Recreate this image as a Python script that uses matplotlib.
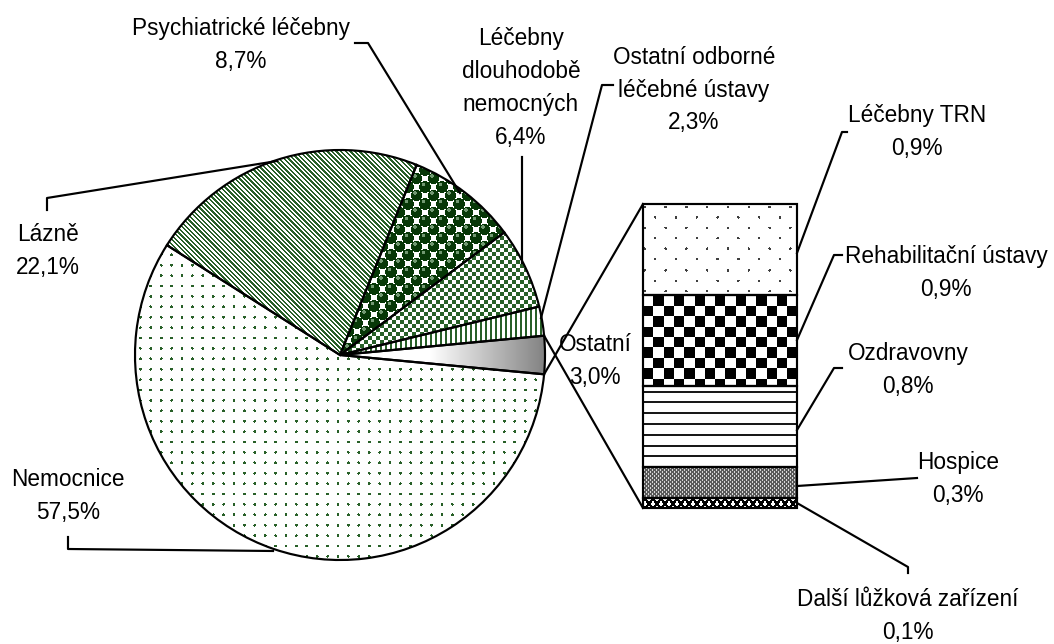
import numpy as np
import matplotlib
matplotlib.use('Agg')
import matplotlib.pyplot as plt

# pie: order of drawing, starting at the right (Ostatní) and going counterclockwise
pie_names = ['Ostatní', 'Ostatní odborné\nléčebné ústavy', 'Léčebny\ndlouhodobě\nnemocných',
             'Psychiatrické léčebny', 'Lázně', 'Nemocnice']
pie_values = [3.0, 2.3, 6.4, 8.7, 22.1, 57.5]

# breakdown of "Ostatní", top to bottom
other_names = ['Léčebny TRN', 'Rehabilitační ústavy', 'Ozdravovny', 'Hospice', 'Další lůžková zařízení']
other_values = [0.9, 0.9, 0.8, 0.3, 0.1]

W, H, DPI = 1054, 644, 120
plt.rcParams['font.family'] = ['Liberation Sans', 'DejaVu Sans']

fig = plt.figure(figsize=(W / DPI, H / DPI), dpi=DPI)
ax = fig.add_axes([0, 0, 1, 1])
ax.axis('off')


def fmt(v):
    return f'{v:.1f}%'.replace('.', ',')


# --- pie (pixel coordinates, y downwards) ---
cx, cy, r = 340, 355, 205
wedges, _ = ax.pie(pie_values, center=(cx, cy), radius=r, counterclock=False,
                   startangle=pie_values[0] / sum(pie_values) * 180,
                   wedgeprops=dict(fill=False, edgecolor='black', linewidth=1.3, zorder=3))
ax.set_xlim(0, W)
ax.set_ylim(H, 0)

# --- bar with the breakdown ---
bx0, by0, bx1, by1 = 643, 204, 797, 508
bax = fig.add_axes([bx0 / W, 1 - by1 / H, (bx1 - bx0) / W, (by1 - by0) / H])
bottoms = np.concatenate([[0], np.cumsum(other_values)[:-1]])
bars = bax.bar(0.5, other_values, width=1, bottom=bottoms, fill=False,
               edgecolor='black', linewidth=1.3, clip_on=False, zorder=3)
bax.set_xlim(0, 1)
bax.set_ylim(sum(other_values), 0)
bax.axis('off')


# --- textures (functions of pixel x, y from top) ---
GREEN = np.array([0.16, 0.38, 0.16])
DARK = np.array([0.03, 0.22, 0.03])


def paint(mask, color, bg=(1, 1, 1)):
    img = np.ones(mask.shape + (3,)) * np.array(bg)
    img[mask] = color
    return img


def dots_grid(X, Y, step, rad, color):
    dx = (X % step) - step / 2
    dy = (Y % step) - step / 2
    return paint(dx ** 2 + dy ** 2 < rad ** 2, color)


def dots_diag(X, Y, step, rad, color):
    a = (X + Y) / (2 * step)
    b = (X - Y) / (2 * step)
    d = np.hypot(a - np.round(a), b - np.round(b)) * step * np.sqrt(2)
    return paint(d < rad, color)


def spheres(X, Y):
    step = 8.5
    a = (X + Y) / (2 * step)
    b = (X - Y) / (2 * step)
    da, db = a - np.round(a), b - np.round(b)
    px = (da + db) * step
    py = (da - db) * step
    d = np.hypot(px, py)
    img = paint(d < 5.8, DARK)
    hl = np.hypot(px + 1.5, py + 2.5) < 1.6
    img[hl & (d < 5.8)] = [0.45, 0.6, 0.45]
    return img


def gradient(X, Y):
    g = np.clip(255 - (X - 430) / 115 * 125, 120, 255) / 255
    return np.dstack([g, g, g])


textures = {
    'Nemocnice': lambda X, Y: dots_grid(X, Y, 10.4, 1.4, GREEN),
    'Lázně': lambda X, Y: paint((X - Y) % 4.6 < 2.3, GREEN),
    'Psychiatrické léčebny': spheres,
    'Léčebny\ndlouhodobě\nnemocných': lambda X, Y: paint(((X // 4) + (Y // 4)) % 2 == 0, GREEN),
    'Ostatní odborné\nléčebné ústavy': lambda X, Y: paint(X % 5 < 1.8, GREEN),
    'Ostatní': gradient,
    'Léčebny TRN': lambda X, Y: dots_diag(X, Y, 10.4, 1.3, (0.25, 0.25, 0.25)),
    'Rehabilitační ústavy': lambda X, Y: paint((((X - bx0) // 10.3) + ((Y - by0) // 10.3)) % 2 == 0, (0, 0, 0)),
    'Ozdravovny': lambda X, Y: paint((Y - by0 - 4) % 10.8 < 2.0, (0.1, 0.1, 0.1)),
    'Hospice': lambda X, Y: paint(((X + Y) % 4 < 1.3) | ((X - Y) % 4 < 1.3), (0.35, 0.35, 0.35), (0.85, 0.85, 0.85)),
    'Další lůžková zařízení': lambda X, Y: paint(((X - Y) % 8 < 2.5) | ((X + Y) % 8 < 2.5), (0, 0, 0)),
}


def texture(patch, func):
    disp = patch.get_transform().transform(patch.get_path().vertices)
    x0, x1 = np.floor(disp[:, 0].min()), np.ceil(disp[:, 0].max())
    y0, y1 = H - np.ceil(disp[:, 1].max()), H - np.floor(disp[:, 1].min())
    X, Y = np.meshgrid(np.arange(x0, x1) + 0.5, np.arange(y0, y1) + 0.5)
    im = ax.imshow(func(X, Y), extent=(x0, x1, y1, y0), interpolation='nearest', zorder=2)
    im.set_clip_path(patch)


for w, name in zip(wedges, pie_names):
    texture(w, textures[name])
for b, name in zip(bars, other_names):
    texture(b, textures[name])

ax.set_xlim(0, W)
ax.set_ylim(H, 0)
ax.set_aspect('auto')

# --- connector lines between the "Ostatní" slice and the bar ---
w0 = wedges[0]
top_corner = ax.transData.inverted().transform(bax.transAxes.transform((0, 0)))
bot_corner = ax.transData.inverted().transform(bax.transAxes.transform((0, 1)))
for ang, corner in [(w0.theta1, top_corner), (w0.theta2, bot_corner)]:
    px = cx + r * np.cos(np.radians(ang))
    py = cy + r * np.sin(np.radians(ang))
    ax.plot([px, corner[0]], [py, corner[1]], color='black', lw=1.3, zorder=4)

# --- labels and leader lines ---
label_pos = {
    'Psychiatrické léčebny': (241, 45),
    'Léčebny\ndlouhodobě\nnemocných': (521, 88),
    'Ostatní odborné\nléčebné ústavy': (694, 90),
    'Lázně': (48, 251),
    'Nemocnice': (68, 496),
    'Ostatní': (595, 361),
    'Léčebny TRN': (917, 132),
    'Rehabilitační ústavy': (946, 273),
    'Ozdravovny': (908, 370),
    'Hospice': (958, 479),
    'Další lůžková zařízení': (908, 616),
}
leaders = {
    'Psychiatrické léčebny': [(355, 43), (368, 43), (460, 193)],
    'Léčebny\ndlouhodobě\nnemocných': [(522, 157), (522, 263)],
    'Ostatní odborné\nléčebné ústavy': [(613, 85), (602, 85), (541, 318)],
    'Lázně': [(47, 210), (47, 198), (277, 161)],
    'Nemocnice': [(68, 537), (68, 549), (273, 551)],
    'Léčebny TRN': [(847, 132), (842, 132), (797, 253)],
    'Rehabilitační ústavy': [(842, 255), (834, 255), (797, 340)],
    'Ozdravovny': [(842, 368), (834, 368), (797, 430)],
    'Hospice': [(917, 478), (797, 486)],
    'Další lůžková zařízení': [(797, 503), (908, 567), (908, 573)],
}

for name, val in list(zip(pie_names, pie_values)) + list(zip(other_names, other_values)):
    x, y = label_pos[name]
    ax.text(x, y, name + '\n' + fmt(val), ha='center', va='center', fontsize=13.6,
            linespacing=1.55, zorder=5)
    if name in leaders:
        pts = np.array(leaders[name])
        ax.plot(pts[:, 0], pts[:, 1], color='black', lw=1.3, zorder=4)

fig.savefig('out.png', dpi=DPI)
